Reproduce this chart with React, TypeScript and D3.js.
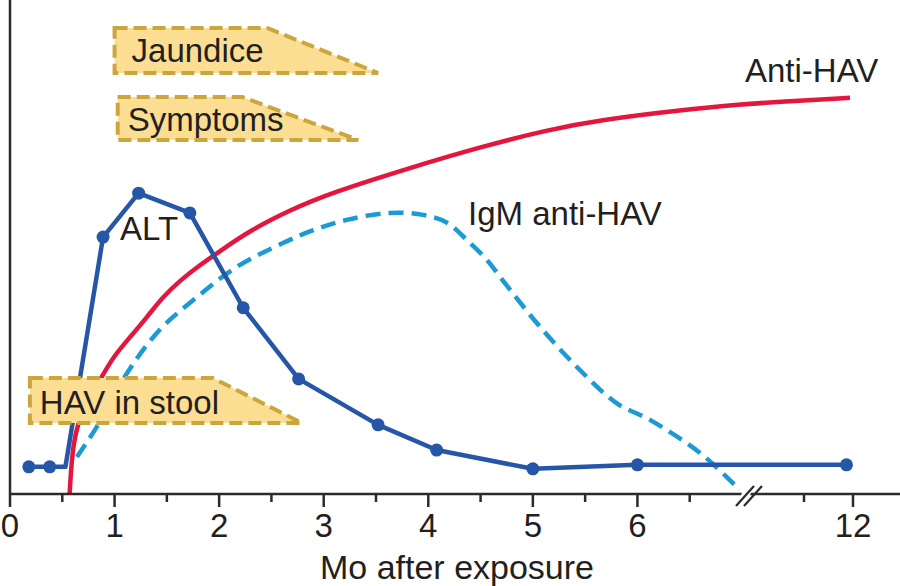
import React, { useRef, useEffect } from "react";
import * as d3 from "d3";

// months after exposure (axis is broken between 7 and 12)
const altMonths = [0.18, 0.38, 0.53, 0.89, 1.23, 1.72, 2.23, 2.76, 3.52, 4.08, 5.0, 6.0, 11.6];
const altValues = [5.5, 5.5, 5.5, 52.0, 60.9, 56.9, 37.7, 23.3, 14.0, 8.9, 5.1, 5.9, 5.9];
const altDots = [true, true, false, true, true, true, true, true, true, true, true, true, true];

const antiMonths = [0.57, 0.6, 0.7, 0.89, 0.985, 1.15, 1.31, 1.46, 1.63, 1.82, 2.01, 2.3, 2.68, 3.06, 3.85, 4.49, 5.14, 5.64, 6.41, 7.0, 8.23, 11.82];
const antiValues = [0, 10.9, 17.6, 24.1, 27.7, 31.8, 35.8, 39.9, 43.3, 46.4, 49.2, 53.4, 57.5, 60.9, 66.2, 70.2, 73.7, 75.7, 77.7, 78.9, 79.4, 80.2];

const igmMonths = [0.64, 0.83, 1.12, 1.43, 1.79, 2.17, 2.61, 2.9, 3.22, 3.63, 3.95, 4.18, 4.37, 4.56, 4.71, 5.07, 5.45, 5.8, 6.12, 6.6, 6.98];
const igmValues = [7.5, 13.6, 24.5, 33.2, 39.9, 46.0, 50.8, 53.4, 55.5, 56.9, 56.5, 54.9, 51.4, 47.4, 43.3, 33.8, 25.1, 18.4, 15.0, 8.3, 0.8];

// phase boxes: start, end of full period, end of taper
const phaseLabels = ["Jaundice", "Symptoms", "HAV in stool"];
const phaseStart = [1.0, 1.03, 0.19];
const phaseFull = [2.46, 2.22, 1.94];
const phaseEnd = [3.52, 3.33, 2.79];

const majorTicks = [0, 1, 2, 3, 4, 5, 6, 12];
const minorTicks = [0.5, 1.5, 2.5, 3.5, 4.5, 5.5, 6.5, 9];
const breakAt = 7;

const seriesLabels = ["ALT", "IgM anti-HAV", "Anti-HAV"];

export default function App() {
  const svgRef = useRef<SVGSVGElement>(null);

  useEffect(() => {
    const W = 900, H = 586;
    const svg = d3.select(svgRef.current);
    svg.selectAll("*").remove();
    const font = "'Liberation Sans', Arial, Helvetica, sans-serif";
    const ink = "#231f20";
    const axisColor = "#2b2b2b";
    const base = 494;

    const x = d3.scaleLinear().domain([0, 7, 9, 12]).range([10, 742, 804, 853]);
    const y = d3.scaleLinear().domain([0, 100]).range([base, 0]);

    // lines
    const smooth = d3.line<[number, number]>()
      .x((d) => x(d[0]))
      .y((d) => y(d[1]))
      .curve(d3.curveCatmullRom.alpha(0.5));
    const soft = d3.line<[number, number]>()
      .x((d) => x(d[0]))
      .y((d) => y(d[1]))
      .curve(d3.curveBasis);
    const straight = d3.line<[number, number]>()
      .x((d) => x(d[0]))
      .y((d) => y(d[1]));

    svg.append("path")
      .datum(igmMonths.map((m, i) => [m, igmValues[i]] as [number, number]))
      .attr("d", smooth)
      .attr("fill", "none")
      .attr("stroke", "#1b9ad6")
      .attr("stroke-width", 4.5)
      .attr("stroke-dasharray", "15,8");

    svg.append("path")
      .datum(antiMonths.map((m, i) => [m, antiValues[i]] as [number, number]))
      .attr("d", soft)
      .attr("fill", "none")
      .attr("stroke", "#e3173e")
      .attr("stroke-width", 4.5);

    const altData = altMonths.map((m, i) => [m, altValues[i]] as [number, number]);
    svg.append("path")
      .datum(altData)
      .attr("d", straight)
      .attr("fill", "none")
      .attr("stroke", "#2656a8")
      .attr("stroke-width", 4.5)
      .attr("stroke-linejoin", "round");
    svg.selectAll(".alt-dot")
      .data(altData.filter((d, i) => altDots[i]))
      .enter().append("circle")
      .attr("cx", (d) => x(d[0]))
      .attr("cy", (d) => y(d[1]))
      .attr("r", 6.5)
      .attr("fill", "#2656a8");

    // phase boxes (drawn over the curves)
    const boxTop = [28, 97, 378];
    const boxBottom = [73, 140, 423];
    const textBase = [62, 131, 414];
    const textPad = [17, 10, 10];
    phaseLabels.forEach((label, i) => {
      const x0 = x(phaseStart[i]), x1 = x(phaseFull[i]), x2 = x(phaseEnd[i]);
      svg.append("path")
        .attr("d", `M${x0},${boxTop[i]}L${x1},${boxTop[i]}L${x2},${boxBottom[i]}L${x0},${boxBottom[i]}Z`)
        .attr("fill", "#fbde92")
        .attr("stroke", "#cba63c")
        .attr("stroke-width", 4)
        .attr("stroke-dasharray", "13,6");
      svg.append("text")
        .attr("x", x0 + textPad[i])
        .attr("y", textBase[i])
        .attr("font-family", font)
        .attr("font-size", 33)
        .attr("fill", ink)
        .text(label);
    });

    // series labels
    const labelX = [120, 468, 745];
    const labelY = [240, 225, 82];
    seriesLabels.forEach((t, i) => {
      svg.append("text")
        .attr("x", labelX[i])
        .attr("y", labelY[i])
        .attr("font-family", font)
        .attr("font-size", 33)
        .attr("fill", ink)
        .text(t);
    });

    // axes
    svg.append("line")
      .attr("x1", 10).attr("x2", 10)
      .attr("y1", 0).attr("y2", base)
      .attr("stroke", axisColor).attr("stroke-width", 2.5);
    svg.append("line")
      .attr("x1", 10).attr("x2", W)
      .attr("y1", base).attr("y2", base)
      .attr("stroke", axisColor).attr("stroke-width", 2.5);

    svg.selectAll(".major")
      .data(majorTicks)
      .enter().append("line")
      .attr("x1", (d) => x(d)).attr("x2", (d) => x(d))
      .attr("y1", base).attr("y2", base + 13)
      .attr("stroke", axisColor).attr("stroke-width", 2.5);
    svg.selectAll(".minor")
      .data(minorTicks)
      .enter().append("line")
      .attr("x1", (d) => x(d)).attr("x2", (d) => x(d))
      .attr("y1", base).attr("y2", base + 8)
      .attr("stroke", axisColor).attr("stroke-width", 2.5);
    svg.selectAll(".tick-label")
      .data(majorTicks)
      .enter().append("text")
      .attr("x", (d) => x(d))
      .attr("y", 537)
      .attr("text-anchor", "middle")
      .attr("font-family", font)
      .attr("font-size", 33)
      .attr("fill", ink)
      .text((d) => String(d));

    // axis break
    const bx = x(breakAt) + 8;
    svg.append("path")
      .attr("d", `M${bx - 6},${base - 6}L${bx + 3},${base - 6}L${bx - 2},${base + 6}L${bx - 11},${base + 6}Z`)
      .attr("fill", "#fff");
    [-4, 4].forEach((o) => {
      svg.append("line")
        .attr("x1", bx + o - 10).attr("y1", base + 12)
        .attr("x2", bx + o + 8).attr("y2", base - 8)
        .attr("stroke", axisColor).attr("stroke-width", 2.2);
    });

    svg.append("text")
      .attr("x", 457)
      .attr("y", 579)
      .attr("text-anchor", "middle")
      .attr("font-family", font)
      .attr("font-size", 34)
      .attr("fill", ink)
      .text("Mo after exposure");

    svg.attr("width", W).attr("height", H);
  }, []);

  return (
    <svg
      ref={svgRef}
      width={900}
      height={586}
      style={{ position: "absolute", left: 0, top: 0, background: "#fff" }}
    />
  );
}
